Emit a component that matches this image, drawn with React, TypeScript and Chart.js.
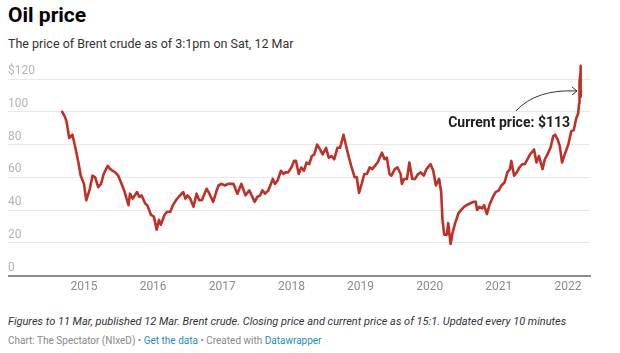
import React, { useEffect, useRef } from "react";
import { Chart, registerables } from "chart.js";

Chart.register(...registerables);

// Brent crude closing price (USD)
const dates: string[] = [
  "2014-09-08","2014-09-22","2014-10-01","2014-10-15","2014-11-01","2014-11-15","2014-12-01","2014-12-15",
  "2015-01-01","2015-01-13","2015-02-01","2015-02-15","2015-03-01","2015-03-17","2015-04-01","2015-04-15",
  "2015-05-06","2015-05-20","2015-06-01","2015-06-15","2015-07-01","2015-07-15","2015-08-01","2015-08-24",
  "2015-09-01","2015-09-15","2015-10-08","2015-10-20","2015-11-01","2015-11-20","2015-12-01","2015-12-21",
  "2016-01-05","2016-01-20","2016-02-01","2016-02-11","2016-03-01","2016-03-15","2016-04-01","2016-04-15",
  "2016-05-01","2016-05-15","2016-06-08","2016-06-20","2016-07-01","2016-07-15","2016-08-02","2016-08-18",
  "2016-09-01","2016-09-15","2016-10-10","2016-10-25","2016-11-14","2016-11-30","2016-12-12","2016-12-28",
  "2017-01-15","2017-02-01","2017-02-15","2017-03-01","2017-03-22","2017-04-12","2017-05-04","2017-05-24",
  "2017-06-05","2017-06-21","2017-07-05","2017-07-20","2017-08-01","2017-08-15","2017-09-01","2017-09-25",
  "2017-10-06","2017-10-20","2017-11-07","2017-11-20","2017-12-01","2017-12-15",
  "2018-01-01","2018-01-15","2018-01-25","2018-02-09","2018-02-22","2018-03-08","2018-03-22","2018-04-05",
  "2018-04-19","2018-05-02","2018-05-17","2018-06-01","2018-06-15","2018-07-03","2018-07-17","2018-08-01",
  "2018-08-15","2018-09-01","2018-09-15","2018-10-03","2018-10-15","2018-11-01","2018-11-15","2018-12-01",
  "2018-12-12","2018-12-24",
  "2019-01-07","2019-01-21","2019-02-04","2019-02-18","2019-03-04","2019-03-18","2019-04-01","2019-04-24",
  "2019-05-08","2019-05-20","2019-06-03","2019-06-13","2019-07-01","2019-07-15","2019-08-01","2019-08-07",
  "2019-08-20","2019-09-03","2019-09-16","2019-10-01","2019-10-15","2019-11-01","2019-11-15","2019-12-01",
  "2019-12-15",
  "2020-01-06","2020-01-20","2020-02-03","2020-02-20","2020-03-02","2020-03-09","2020-03-18","2020-04-01",
  "2020-04-08","2020-04-21","2020-05-01","2020-05-15","2020-06-01","2020-06-15","2020-07-01","2020-07-15",
  "2020-08-01","2020-08-20","2020-09-01","2020-09-08","2020-09-20","2020-10-05","2020-10-15","2020-10-30",
  "2020-11-15","2020-12-01","2020-12-15",
  "2021-01-01","2021-01-15","2021-02-01","2021-02-15","2021-03-01","2021-03-08","2021-03-23","2021-04-06",
  "2021-04-20","2021-05-04","2021-05-18","2021-06-01","2021-06-15","2021-07-06","2021-07-19","2021-08-01",
  "2021-08-20","2021-09-01","2021-09-15","2021-10-01","2021-10-15","2021-10-25","2021-11-08","2021-11-19",
  "2021-12-01","2021-12-15",
  "2022-01-03","2022-01-18","2022-02-01","2022-02-14","2022-02-24","2022-03-01","2022-03-02","2022-03-04",
  "2022-03-07","2022-03-08","2022-03-09","2022-03-10","2022-03-11",
];

const prices: number[] = [
  100, 97, 94, 84, 86, 79, 70, 61,
  56, 46, 53, 61, 60, 54, 56, 62,
  67, 65, 64, 63, 61, 57, 52, 43,
  50, 47, 51, 48, 49, 44, 43, 37,
  36, 28, 34, 31, 37, 39, 39, 43,
  46, 48, 51, 47, 49, 47, 42, 50,
  46, 46, 53, 50, 45, 51, 55, 56,
  55, 56, 56, 56, 50, 56, 49, 52,
  49, 45, 48, 49, 52, 50, 52, 59,
  56, 58, 64, 62, 63, 63,
  66, 70, 70, 62, 66, 64, 69, 68,
  73, 74, 80, 77, 74, 78, 72, 73,
  71, 78, 78, 86, 80, 72, 66, 60,
  60, 50.5,
  56, 62, 62, 66, 65, 67, 69, 75,
  71, 72, 62, 61, 65, 66, 62, 56,
  59, 59, 69, 59, 59, 62, 63, 61,
  65,
  68, 64, 55, 59, 51, 34, 25, 25,
  32, 19.3, 26, 32, 38, 40, 42, 43,
  44, 45, 45, 40, 42, 41, 43, 37.5,
  44, 48, 51,
  52, 55, 57, 63, 65, 70, 61, 63,
  66, 68, 68, 71, 74, 77, 69, 73,
  65, 71, 74, 78, 85, 86, 83, 79,
  69, 74,
  80, 88, 89, 96, 99, 105, 113, 118,
  123, 128, 111, 109, 112.7,
];

const yearTicks: number[] = [2015, 2016, 2017, 2018, 2019, 2020, 2021, 2022];
const yTicks: number[] = [0, 20, 40, 60, 80, 100, 120];
const currentLabel = "Current price: $113";

function toYear(d: string): number {
  const [y, m, day] = d.split("-").map(Number);
  const start = Date.UTC(y, 0, 1);
  const end = Date.UTC(y + 1, 0, 1);
  return y + (Date.UTC(y, m - 1, day) - start) / (end - start);
}

const FONT = "Roboto, 'Noto Sans', sans-serif";

const annotationPlugin = {
  id: "currentPrice",
  afterDatasetsDraw(chart: any) {
    const meta = chart.getDatasetMeta(0);
    const pts = meta.data;
    if (!pts.length) return;
    const last = pts[pts.length - 1];
    const px = last.x;
    const py = last.y;
    const ctx = chart.ctx;
    ctx.save();
    // arrow
    const sx = px - 65, sy = py + 20;
    const ex = px - 4, ey = py;
    ctx.strokeStyle = "#333333";
    ctx.lineWidth = 1;
    ctx.beginPath();
    ctx.moveTo(sx, sy);
    ctx.quadraticCurveTo(px - 45, ey - 2, ex, ey);
    ctx.stroke();
    ctx.beginPath();
    ctx.moveTo(ex - 5, ey - 4);
    ctx.lineTo(ex, ey);
    ctx.lineTo(ex - 5, ey + 4);
    ctx.stroke();
    // text
    ctx.font = `bold 14px ${FONT}`;
    ctx.fillStyle = "#1d1d1d";
    ctx.textAlign = "right";
    ctx.textBaseline = "middle";
    ctx.fillText(currentLabel, px - 11, py + 33);
    ctx.restore();
  },
};

export default function App() {
  const ref = useRef<HTMLCanvasElement | null>(null);
  useEffect(() => {
    if (!ref.current) return;
    const data = dates.map((d, i) => ({ x: toYear(d), y: prices[i] }));
    const chart = new Chart(ref.current, {
      type: "line",
      data: {
        datasets: [
          {
            data,
            borderColor: "#bf3026",
            borderWidth: 2.6,
            pointRadius: 0,
            tension: 0,
            borderJoinStyle: "round",
            borderCapStyle: "round",
            clip: false as any,
          },
        ],
      },
      options: {
        animation: false,
        responsive: false,
        layout: { padding: { left: 0, right: 22, top: 19, bottom: 2 } },
        plugins: { legend: { display: false }, tooltip: { enabled: false } },
        scales: {
          x: {
            type: "linear",
            min: 2013.901,
            max: 2022.319,
            grid: { display: false, drawTicks: false },
            border: { display: true, color: "#8c8c8c", width: 2 },
            afterBuildTicks: (scale: any) => {
              scale.ticks = yearTicks.map((v) => ({ value: v }));
            },
            ticks: {
              autoSkip: false,
              maxRotation: 0,
              padding: 4,
              color: "#8a8a8a",
              font: { family: FONT, size: 12 },
              callback: (v: any) => String(v),
            },
          },
          y: {
            type: "linear",
            min: 0,
            max: 120,
            grid: { color: "#e8e8e8", lineWidth: 1, drawTicks: false },
            border: { display: false },
            afterBuildTicks: (scale: any) => {
              scale.ticks = yTicks.map((v) => ({ value: v }));
            },
            ticks: {
              mirror: true,
              padding: 0,
              labelOffset: -8,
              color: "#b3b3b3",
              font: { family: FONT, size: 12 },
              callback: (v: any) => (v === 120 ? "$120" : String(v)),
            },
          },
        },
      },
      plugins: [annotationPlugin],
    });
    return () => chart.destroy();
  }, []);

  return (
    <div style={{ position: "fixed", left: 0, top: 0, width: 620, height: 353, background: "#fff", fontFamily: FONT }}>
      <div style={{ position: "absolute", left: 8, top: 4, fontSize: 21, lineHeight: "22px", fontWeight: 700, color: "#000", whiteSpace: "nowrap" }}>
        Oil price
      </div>
      <div style={{ position: "absolute", left: 8, top: 37, fontSize: 12.5, lineHeight: "13px", color: "#333", whiteSpace: "nowrap" }}>
        The price of Brent crude as of 3:1pm on Sat, 12 Mar
      </div>
      <canvas ref={ref} width={604} height={240} style={{ position: "absolute", left: 8, top: 60, width: 604, height: 240 }} />
      <div style={{ position: "absolute", left: 8, top: 316, fontSize: 11, lineHeight: "12px", fontStyle: "italic", color: "#333", whiteSpace: "nowrap" }}>
        Figures to 11 Mar, published 12 Mar. Brent crude. Closing price and current price as of 15:1. Updated every 10 minutes
      </div>
      <div style={{ position: "absolute", left: 8, top: 335, fontSize: 10, lineHeight: "11px", color: "#888", whiteSpace: "nowrap" }}>
        Chart: The Spectator (NIxeD) • <span style={{ color: "#1d8dc0" }}>Get the data</span> • Created with{" "}
        <span style={{ color: "#1d8dc0" }}>Datawrapper</span>
      </div>
    </div>
  );
}
